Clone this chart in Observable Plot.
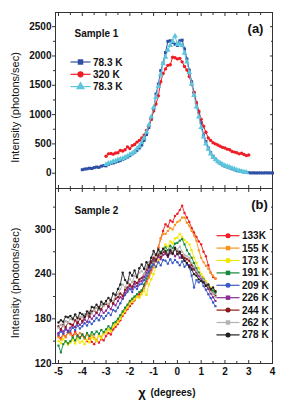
<!DOCTYPE html>
<html><head><meta charset="utf-8">
<script src="https://cdn.jsdelivr.net/npm/d3@7"></script>
<script src="https://cdn.jsdelivr.net/npm/@observablehq/plot@0.6"></script>
<style>
body{margin:0;background:#fff;}
#wrap{position:relative;width:289px;height:410px;}
#wrap svg{position:absolute;left:0;}
</style></head><body><div id="wrap"></div>
<script>
// ---------- Sample 1 (panel a) ----------
const s1Labels = ["78.3 K", "320 K", "78.3 K"];
const s1Start = [-4.0, -3.0, -3.0];
const s1_78a = [60,70,75,85,80,95,105,100,120,130,125,
  150,165,175,190,200,215,235,255,275,300,
  330,360,390,430,480,560,660,780,920,1080,
  1350,1520,1750,1880,2060,2250,2260,2230,2200,2180,
  2260,2270,2120,1950,1760,1560,1370,1200,1040,860,
  650,540,430,350,290,240,195,170,140,120,
  105,90,75,60,45,38,30,20,12,8,
  5,6,4,5,5,4,6,5,5,4];
const s1_320 = [290,330,335,325,345,350,390,380,400,450,
  420,470,490,530,560,600,650,730,810,920,
  1060,1180,1320,1560,1700,1780,1840,1850,1980,1970,
  1950,1960,1900,1820,1760,1650,1520,1380,1200,1060,
  920,800,700,600,560,520,500,480,460,440,
  430,410,400,370,360,350,330,340,320,300,
  310];
const s1_78b = [150,170,180,200,210,230,240,250,270,290,
  320,340,370,420,460,520,600,700,820,960,
  1120,1300,1480,1680,1870,1980,2100,2180,2250,2340,
  2200,2210,2180,2050,1900,1720,1520,1330,1130,960,
  780,620,500,410,330,270,230,200,170,150,
  130,115,100,85,70,55,40,30,20,15];

// ---------- Sample 2 (panel b) ----------
const s2Labels = ["133K","155 K","173 K","191 K","209 K","226 K","244 K","262 K","278 K"];
const s2Start = -5.0;
const s2_133 = [157,154,160,156,162,161,157,163,158,155,159,155,150,154,149,146,151,148,153,151,
  157,161,159,166,169,173,178,184,188,193,197,201,205,210,213,218,224,230,237,245,
  253,264,276,288,298,307,304,312,310,318,321,326,332,322,316,310,302,296,290,284,
  280,270,264,252,242,236,234];
const s2_155 = [155,152,158,155,161,159,155,160,156,161,157,153,159,154,158,155,152,158,156,160,
  162,166,164,170,173,177,183,188,193,198,202,205,209,212,210,215,221,228,235,242,
  249,262,275,288,294,294,298,302,300,306,310,312,316,316,309,305,298,292,285,272,
  262,256,251,247,242,238,234];
const s2_173 = [150,147,153,149,145,148,152,147,153,148,150,146,152,148,155,153,150,157,154,160,
  162,166,163,170,172,175,180,186,190,195,200,203,206,210,208,213,218,212,226,233,
  240,250,258,266,274,280,277,284,281,288,289,294,290,286,283,280,272,262,255,248,
  240,236,231,226,222,219,217];
const s2_191 = [144,135,146,150,147,150,155,151,157,154,159,155,161,157,162,159,163,160,165,162,
  166,170,167,174,176,180,185,190,195,199,204,207,210,213,216,218,226,234,242,250,
  258,262,266,270,273,276,272,278,275,281,282,285,287,280,272,267,262,255,248,242,
  236,233,228,224,220,218,215];
const s2_209 = [159,163,160,166,162,164,168,165,171,167,170,174,171,176,173,177,181,178,184,180,
  184,188,185,192,190,195,201,207,212,216,220,216,223,220,226,227,232,238,244,249,
  253,250,256,252,259,258,254,260,255,259,256,252,257,250,253,249,238,222,232,229,
  231,224,219,213,208,202,197];
const s2_226 = [161,165,163,167,164,168,172,169,176,172,175,179,176,183,180,184,188,185,192,188,
  191,196,193,200,198,204,209,207,215,219,224,220,227,224,230,231,236,242,248,255,
  260,257,263,260,266,267,263,268,270,264,267,262,265,258,255,252,248,246,242,237,
  234,229,226,220,214,209,204];
const s2_244 = [170,166,172,169,175,173,171,178,174,180,177,182,186,183,190,191,188,196,193,199,
  200,197,204,201,207,209,214,211,219,222,226,223,230,228,233,235,240,246,252,257,
  262,259,266,263,270,269,265,272,267,274,271,268,265,262,260,258,252,248,243,240,
  236,232,226,222,218,214,211];
const s2_262 = [168,172,170,177,175,180,178,184,179,183,182,186,184,190,187,191,195,192,199,197,
  202,200,206,204,211,213,220,226,222,230,233,229,238,235,242,244,240,250,256,262,
  267,263,270,266,272,271,268,275,270,276,273,277,270,266,264,262,255,250,244,240,
  236,232,228,224,216,214,209];
const s2_278 = [175,178,176,183,182,184,180,186,181,188,186,183,190,187,196,195,199,194,203,200,
  204,208,205,214,212,220,226,242,232,228,242,238,245,236,248,253,247,256,250,262,
  271,266,273,268,274,271,265,272,268,275,267,270,262,258,255,250,246,240,238,233,
  231,229,224,226,220,222,217];

// ---------- ticks ----------
const xTickLabels = [-5,-4,-3,-2,-1,0,1,2,3,4];
const xMinor = [-4.5,-3.5,-2.5,-1.5,-0.5,0.5,1.5,2.5,3.5];
const yTopMajor = [0,500,1000,1500,2000,2500];
const yTopMinor = [250,750,1250,1750,2250];
const yBotMajor = [120,180,240,300];
const yBotMinor = [150,210,270,330];

// ---------- styles ----------
const s1Colors = ["#2f4fa6","#ee1c25","#5cc5dc"];
const s1Symbols = ["square","circle","triangle"];
const s2Colors = ["#ee1c25","#f7941d","#f2e600","#12893b","#3a5bc7","#8b2c98","#8b1a1a","#b3b3b3","#231f20"];
const s2Symbols = ["circle","square","circle","square","circle","square","circle","square","circle"];

const FONT = "'Liberation Sans', Arial, sans-serif";
const AX = "#333";
const xDomain = [-5.126, 4];

function rows(values, start, key) {
  return values.map((v, i) => ({x: Math.round((start + i * 0.1) * 10) / 10, y: v, k: key}));
}
const s1Series = [s1_78a, s1_320, s1_78b].map((v, j) => rows(v, s1Start[j], j));
const s2Series = [s2_133, s2_155, s2_173, s2_191, s2_209, s2_226, s2_244, s2_262, s2_278].map((v, j) => rows(v, s2Start, j));

const noText = () => "";

function frameAxes(yMajor, yMinor, xMajorTop, labelBottom) {
  const m = [
    Plot.frame({stroke: AX, strokeWidth: 1}),
    Plot.axisY({anchor: "left", ticks: yMajor, tickSize: 3, tickPadding: 1, tickFormat: d => String(d), fontSize: 10, fontWeight: "bold", label: null, stroke: AX}),
    Plot.axisY({anchor: "left", ticks: yMinor, tickSize: 2, tickFormat: noText, label: null, stroke: AX}),
    Plot.axisY({anchor: "right", ticks: yMajor, tickSize: -3, tickFormat: noText, label: null, stroke: AX}),
    Plot.axisY({anchor: "right", ticks: yMinor, tickSize: -2, tickFormat: noText, label: null, stroke: AX}),
    Plot.axisX({anchor: "top", ticks: xMajorTop, tickSize: -3, tickFormat: noText, label: null, stroke: AX}),
    Plot.axisX({anchor: "top", ticks: xMinor, tickSize: -2, tickFormat: noText, label: null, stroke: AX}),
    Plot.axisX({anchor: "bottom", ticks: xTickLabels, tickSize: -3, tickFormat: noText, label: null, stroke: AX}),
    Plot.axisX({anchor: "bottom", ticks: xMinor, tickSize: -2, tickFormat: noText, label: null, stroke: AX})
  ];
  if (labelBottom) {
    m.push(Plot.axisX({anchor: "bottom", ticks: xTickLabels, tickSize: 0, tickPadding: 4, tickFormat: d => String(d), fontSize: 10, fontWeight: "bold", label: null}));
  }
  return m;
}

const styleObj = {fontFamily: FONT, fontSize: "10px", color: "#111", background: "transparent", overflow: "visible"};

// ---------- Top panel ----------
const topMarks = [...frameAxes(yTopMajor, yTopMinor, xTickLabels, false)];
s1Series.forEach((d, j) => {
  topMarks.push(Plot.line(d, {x: "x", y: "y", stroke: s1Colors[j], strokeWidth: 1}));
  topMarks.push(Plot.dot(d, {x: "x", y: "y", fill: s1Colors[j], symbol: s1Symbols[j], r: j === 2 ? 2.1 : 1.7}));
});
topMarks.push(
  Plot.text(["Sample 1"], {frameAnchor: "top-left", dx: 19, dy: 21, textAnchor: "start", lineAnchor: "middle", fontSize: 10, fontWeight: "bold"}),
  Plot.text(["(a)"], {frameAnchor: "top-right", dx: -17, dy: 16, textAnchor: "middle", lineAnchor: "middle", fontSize: 13, fontWeight: "bold"}),
  Plot.text(["Intensity (photons/sec)"], {frameAnchor: "left", dx: -40, dy: 7, rotate: -90, textAnchor: "middle", lineAnchor: "middle", fontSize: 11})
);
const topPlot = Plot.plot({
  width: 289, height: 189, marginTop: 12, marginBottom: 1, marginLeft: 55, marginRight: 17,
  x: {domain: xDomain, axis: null},
  y: {domain: [-261, 2742], axis: null},
  style: styleObj,
  marks: topMarks
});

// ---------- Bottom panel ----------
const botMarks = [...frameAxes(yBotMajor, yBotMinor, xTickLabels, true)];
s2Series.forEach((d, j) => {
  botMarks.push(Plot.line(d, {x: "x", y: "y", stroke: s2Colors[j], strokeWidth: 0.9}));
  botMarks.push(Plot.dot(d, {x: "x", y: "y", fill: s2Colors[j], symbol: s2Symbols[j], r: 1.2}));
});
botMarks.push(
  Plot.text(["Sample 2"], {frameAnchor: "top-left", dx: 19, dy: 22.7, textAnchor: "start", lineAnchor: "middle", fontSize: 10, fontWeight: "bold"}),
  Plot.text(["(b)"], {frameAnchor: "top-right", dx: -13, dy: 16.3, textAnchor: "middle", lineAnchor: "middle", fontSize: 13, fontWeight: "bold"}),
  Plot.text(["Intensity (photons/sec)"], {frameAnchor: "left", dx: -40, dy: 7, rotate: -90, textAnchor: "middle", lineAnchor: "middle", fontSize: 11}),
  Plot.text(["χ"], {frameAnchor: "bottom", dx: -22, dy: 29, textAnchor: "middle", lineAnchor: "middle", fontSize: 13, fontWeight: "bold"}),
  Plot.text(["(degrees)"], {frameAnchor: "bottom", dx: -13.5, dy: 29, textAnchor: "start", lineAnchor: "middle", fontSize: 10, fontWeight: "bold"})
);
const botPlot = Plot.plot({
  width: 289, height: 222, marginTop: 0, marginBottom: 47, marginLeft: 55, marginRight: 17,
  x: {domain: xDomain, axis: null},
  y: {domain: [120, 355], axis: null},
  style: styleObj,
  marks: botMarks
});

const wrap = document.getElementById("wrap");
topPlot.style.top = "0px";
botPlot.style.top = "188px";
wrap.append(topPlot);
wrap.append(botPlot);

// ---------- legends ----------
function symbolPath(name, size) {
  const t = name === "square" ? d3.symbolSquare : name === "triangle" ? d3.symbolTriangle : d3.symbolCircle;
  return d3.symbol().type(t).size(size)();
}
function legend(svg, labels, colors, symbols, x0, y0, dy, lineLen, sizes) {
  const g = d3.select(svg).append("g").attr("font-family", FONT).attr("text-anchor", "start");
  labels.forEach((lab, i) => {
    const y = y0 + i * dy;
    g.append("line").attr("x1", x0).attr("x2", x0 + lineLen).attr("y1", y).attr("y2", y)
      .attr("stroke", colors[i]).attr("stroke-width", 1.2);
    g.append("path").attr("d", symbolPath(symbols[i], sizes[symbols[i]]))
      .attr("transform", `translate(${x0 + lineLen / 2},${y})`).attr("fill", colors[i]);
    g.append("text").attr("x", x0 + lineLen + 2.5).attr("y", y).attr("dy", "0.35em")
      .attr("text-anchor", "start")
      .attr("font-size", 10).attr("font-weight", "bold").attr("fill", "#111").text(lab);
  });
}
legend(topPlot, s1Labels, s1Colors, s1Symbols, 70.5, 62, 12.3, 20, {square: 30, circle: 30, triangle: 34});
legend(botPlot, s2Labels, s2Colors, s2Symbols, 216.5, 235.7 - 188, 12.4, 23, {square: 20, circle: 20, triangle: 20});
</script>
</body></html>
